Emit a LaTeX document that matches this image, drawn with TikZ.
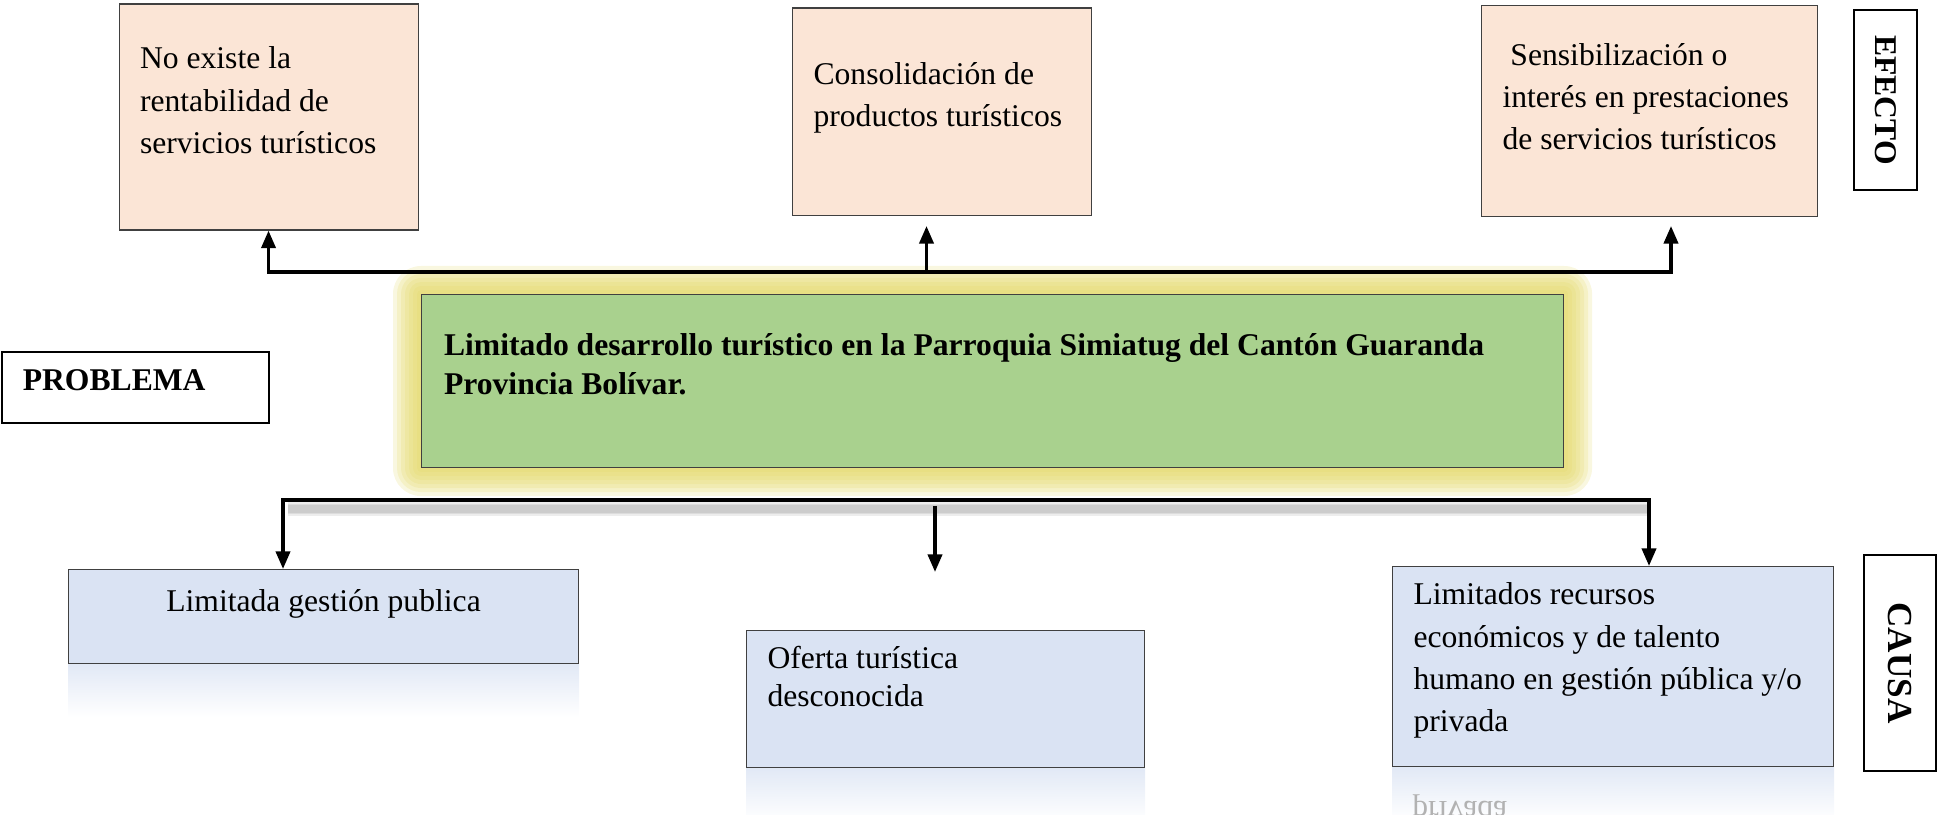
\documentclass[tikz,border=0pt]{standalone}
\usepackage{fontspec}
\setmainfont{Liberation Serif}
\usepackage{tikz}
\usetikzlibrary{calc,arrows.meta,backgrounds}

\definecolor{effpeach}{HTML}{FBE5D6}
\definecolor{causeblue}{HTML}{DAE3F3}
\definecolor{probgreen}{HTML}{A9D18E}
\definecolor{glowyellow}{HTML}{E2D762}

% width, height, top pad, text
\newcommand{\boxtext}[4]{\parbox[t][#2][t]{#1}{\vspace*{#3}\raggedright #4}}

\begin{document}
\begin{tikzpicture}[>={Triangle[length=10pt,width=8pt]},
  effbox/.style={draw=black!75, line width=0.6pt, fill=effpeach, anchor=north west,
    inner xsep=0.42cm, inner ysep=0pt, font=\fontsize{18}{24}\selectfont},
  causebox/.style={effbox, fill=causeblue},
  labbox/.style={draw, line width=0.9pt, fill=white, inner sep=0pt,
    font=\fontsize{18}{22}\selectfont\bfseries},
  conn/.style={line width=2pt}]

\useasboundingbox (0,0) rectangle (38.74,16.28);

% Effect boxes
\node[effbox] (ef1) at (2.37,16.21) {\boxtext{5.14cm}{4.52cm}{0.86cm}{No existe la\\ rentabilidad de\\ servicios turísticos}};
\node[effbox] (ef2) at (15.84,16.13) {\boxtext{5.14cm}{4.15cm}{1.09cm}{Consolidación de\\ productos turísticos}};
\node[effbox] (ef3) at (29.62,16.18) {\boxtext{5.88cm}{4.22cm}{0.76cm}{\hspace{0.25em}Sensibilización o\\ interés en prestaciones\\ de servicios turísticos}};

% Side labels
\node[labbox, rotate=-90, minimum width=3.6cm, minimum height=1.26cm] (efecto) at (37.71,14.28) {EFECTO};
\node[labbox, anchor=north west, inner xsep=0.42cm] (problema) at (0.02,9.26) {\boxtext{4.50cm}{1.42cm}{0.36cm}{PROBLEMA}};
\node[labbox, rotate=-90, minimum width=4.32cm, minimum height=1.44cm, font=\fontsize{20}{24}\selectfont\bfseries] (causa) at (38.0,3.02) {CAUSA};

% Central problem
\node[effbox, fill=probgreen, inner xsep=0.45cm, font=\fontsize{18}{22.4}\selectfont\bfseries] (prob) at (8.42,10.40)
  {\boxtext{21.94cm}{3.46cm}{0.78cm}{Limitado desarrollo turístico en la Parroquia Simiatug del Cantón Guaranda\\ Provincia Bolívar.}};

% Glow round the problem
\begin{scope}[on background layer]
\foreach \g in {0.08,0.16,0.24,0.32,0.40,0.48,0.56}
  \fill[glowyellow, opacity=0.2, rounded corners=\g cm] ($(prob.south west)+(-\g,-\g)$) rectangle ($(prob.north east)+(\g,\g)$);
\end{scope}

% Cause boxes
\node[causebox] (ca1) at (1.36,4.90) {\boxtext{9.36cm}{1.88cm}{0.39cm}{\centering Limitada gestión publica}};
\node[causebox, font=\fontsize{18}{21.8}\selectfont] (ca2) at (14.92,3.68) {\boxtext{7.12cm}{2.74cm}{0.31cm}{Oferta turística\\ desconocida}};
\node[causebox] (ca3) at (27.84,4.96) {\boxtext{7.98cm}{4.0cm}{0.33cm}{Limitados recursos\\ económicos y de talento\\ humano en gestión pública y/o\\ privada}};

% Reflections under the cause boxes
\begin{scope}[on background layer]
\shade[top color=causeblue!80, bottom color=white] (ca1.south west) rectangle ($(ca1.south east)+(0,-1.06)$);
\shade[top color=causeblue!80, bottom color=white] (ca2.south west) rectangle ($(ca2.south east)+(0,-1.06)$);
\shade[top color=causeblue!80, bottom color=white] (ca3.south west) rectangle ($(ca3.south east)+(0,-1.06)$);
\end{scope}
\node[text=black!30, yscale=-1, transform shape, anchor=base west, inner sep=0pt, font=\fontsize{18}{24}\selectfont] (privrefl) at (28.24,0.26) {privada};

% Effect bus
\coordinate (topbus) at (0,10.84);
\coordinate (topR) at (33.42,10.84);
\coordinate (topRtip) at (33.42,11.76);
\coordinate (topM) at (18.53,10.84);
\coordinate (topMtip) at (18.53,11.76);
\draw[conn, <->] (ef1.south) -- (ef1.south |- topbus) -- (topR) -- (topRtip);
\draw[conn, ->] (topM) -- (topMtip);

% Cause bus
\coordinate (botL) at (5.66,6.28);
\coordinate (botR) at (32.98,6.28);
\coordinate (botM) at (18.70,6.16);
\coordinate (botMtip) at (18.70,4.84);
\foreach \s in {1,2,3}
  \draw[black, opacity=0.07, line width=2pt+2*\s pt] ($(botL)+(0.1,-0.18)$) -- ($(botR)+(0,-0.18)$);
\draw[conn, <->] (botL |- ca1.north) -- (botL) -- (botR) -- (botR |- ca3.north);
\draw[conn, ->] (botM) -- (botMtip);
\end{tikzpicture}
\end{document}
